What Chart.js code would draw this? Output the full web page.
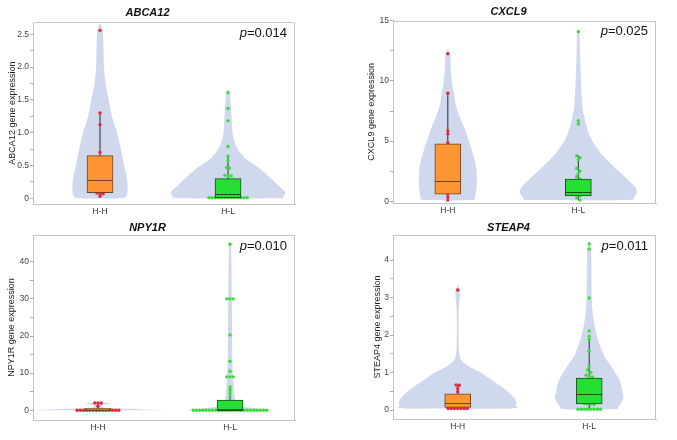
<!DOCTYPE html>
<html><head><meta charset="utf-8">
<script src="https://cdn.jsdelivr.net/npm/chart.js@4.4.1/dist/chart.umd.min.js"></script>
<style>
html,body{margin:0;padding:0;background:#fff;}
#wrap{position:relative;width:677px;height:440px;overflow:hidden;background:#fff;}
canvas{position:absolute;}
</style></head><body><div id="wrap">
<canvas id="c1" width="300" height="222" style="left:0;top:0"></canvas>
<canvas id="c2" width="300" height="222" style="left:360px;top:0"></canvas>
<canvas id="c3" width="300" height="220" style="left:0;top:220px"></canvas>
<canvas id="c4" width="300" height="220" style="left:360px;top:220px"></canvas>
</div>
<script>
// ---------- data ----------
const groups = ['H-H', 'H-L'];
const genes = ['ABCA12', 'CXCL9', 'NPY1R', 'STEAP4'];
const pValues = ['0.014', '0.025', '0.010', '0.011'];

// y tick labels
const abca12Ticks = [0, 0.5, 1.0, 1.5, 2.0, 2.5];
const abca12TickLabels = ['0', '0.5', '1.0', '1.5', '2.0', '2.5'];
const cxcl9Ticks = [0, 5, 10, 15];
const cxcl9TickLabels = ['0', '5', '10', '15'];
const npy1rTicks = [0, 10, 20, 30, 40];
const npy1rTickLabels = ['0', '10', '20', '30', '40'];
const steap4Ticks = [0, 1, 2, 3, 4];
const steap4TickLabels = ['0', '1', '2', '3', '4'];

// individual observations
const abca12HH = [2.56, 1.30, 1.12, 0.70, 0.60, 0.50, 0.38, 0.29, 0.20, 0.14, 0.08, 0.07, 0.07, 0.03];
const abca12HL = [1.61, 1.37, 1.18, 0.79, 0.64, 0.57, 0.47, 0.46, 0.35, 0.34, 0.34, 0.27, 0.20, 0.14, 0.06,
  0.01, 0.01, 0.01, 0.01, 0.01, 0.01, 0.01, 0.01, 0.01, 0.01, 0.01, 0.01, 0.01];
const cxcl9HH = [12.25, 8.97, 5.85, 5.6, 4.87, 4.3, 3.6, 2.9, 2.2, 1.72, 1.3, 0.9, 0.6, 0.35, 0.1];
const cxcl9HL = [14.09, 6.69, 6.42, 3.79, 3.62, 3.45, 2.75, 2.52, 2.3, 2.04, 1.85, 1.5, 1.2, 0.9, 0.8, 0.6, 0.45, 0.3, 0.1];
const npy1rHH = [1.95, 1.95, 1.95, 1.1, 0, 0, 0, 0, 0, 0, 0, 0, 0, 0, 0, 0, 0, 0];
const npy1rHL = [44.7, 30, 30, 30, 20.3, 13.2, 10.5, 9, 9, 9, 6.3, 5.4, 4.5, 3.6, 2.0, 1.0,
  0, 0, 0, 0, 0, 0, 0, 0, 0, 0, 0, 0, 0, 0, 0, 0, 0, 0, 0, 0, 0, 0, 0, 0];
const steap4HH = [3.2, 0.67, 0.66, 0.57, 0.49, 0.35, 0.25, 0.18, 0.12, 0.04, 0.04, 0.04, 0.04, 0.04, 0.04, 0.04];
const steap4HL = [4.43, 4.29, 2.99, 2.11, 1.97, 1.88, 1.57, 1.15, 1.07, 1.0, 0.93, 0.9, 0.88, 0.7, 0.6, 0.5, 0.44,
  0.35, 0.25, 0.17, 0.16, 0.16, 0.15, 0.02, 0.02, 0.02, 0.02, 0.02, 0.02, 0.02, 0.02];

// box statistics: [lower whisker, Q1, median, Q3, upper whisker]
const abca12HHBox = [0.03, 0.085, 0.28, 0.65, 1.30];
const abca12HLBox = [0.01, 0.01, 0.065, 0.30, 0.64];
const cxcl9HHBox = [0.1, 0.6, 1.72, 4.77, 8.97];
const cxcl9HLBox = [0.1, 0.45, 0.8, 1.85, 3.79];
const npy1rHHBox = [0, 0, 0.1, 0.53, 1.95];
const npy1rHLBox = [0, 0, 0, 2.77, 6.3];
const steap4HHBox = [0.04, 0.07, 0.18, 0.43, 0.67];
const steap4HLBox = [0.02, 0.16, 0.44, 0.85, 1.87];

// violin outlines: y levels and relative density (half width)
const abca12HHViolinY = [0, 0.03, 0.1, 0.3, 0.5, 0.75, 1.0, 1.25, 1.5, 1.75, 2.0, 2.25, 2.5, 2.6, 2.66];
const abca12HHViolinD = [20, 26, 27.5, 27, 24, 21, 17, 12, 8.7, 5.5, 4, 3.5, 3, 2, 0];
const abca12HLViolinY = [0, 0.03, 0.1, 0.2, 0.3, 0.45, 0.6, 0.7, 0.8, 0.9, 1.0, 1.25, 1.5, 1.62, 1.66];
const abca12HLViolinD = [46, 55, 57, 50, 43, 32, 18, 12, 8, 6, 4.5, 3.5, 2.5, 1.5, 0];
const cxcl9HHViolinY = [0.1, 0.3, 1, 2, 3, 4, 5, 6, 7, 8, 9, 10, 11, 12, 12.5, 12.6];
const cxcl9HHViolinD = [22, 27, 28.5, 29, 28, 25, 21, 17, 12, 8, 6, 4, 3, 2.5, 1, 0];
const cxcl9HLViolinY = [0.1, 0.3, 1, 2, 3, 4, 5, 6, 7, 8, 10, 12, 14, 14.3];
const cxcl9HLViolinD = [45, 55, 58, 47, 34, 22.5, 14, 9, 6, 4, 2.7, 1.8, 1.2, 0];
const npy1rHHViolinY = [0, 0.3, 0.6, 1.0, 1.3, 1.6, 1.9, 2.05, 2.12];
const npy1rHHViolinD = [59, 40, 10, 4, 4, 9, 12, 8, 0];
const npy1rHLViolinY = [0, 0.4, 1, 2, 3, 5, 8, 12, 20, 30, 40, 44.8, 45.2];
const npy1rHLViolinD = [40, 30, 12, 6, 5, 4, 3.3, 2.5, 2, 1.8, 1.3, 1, 0];
const steap4HHViolinY = [0.04, 0.12, 0.27, 0.45, 0.62, 0.8, 1.0, 1.15, 1.3, 1.5, 2.0, 2.5, 2.8, 3.0, 3.15, 3.28, 3.32];
const steap4HHViolinD = [50, 58, 58, 52, 44, 34, 23, 12, 4.5, 1.6, 0.9, 0.9, 1.3, 2.0, 2.3, 1, 0];
const steap4HLViolinY = [0.02, 0.08, 0.3, 0.5, 0.75, 1.0, 1.2, 1.5, 2.0, 2.5, 3.0, 4.0, 4.4, 4.5];
const steap4HLViolinD = [24, 29, 34, 33, 31, 26, 21, 14, 7.5, 4, 2.5, 2.2, 1.5, 0];

// ---------- styling ----------
const FONT = "'Liberation Sans', Arial, sans-serif";
const VIOLIN = '#d0d8ed';
const BOX_FILL = ['#ff9433', '#25e034'];
const BOX_LINE = ['#6a4626', '#1d4a1d'];
const DOT = ['#e3263e', '#39dc39'];
const FRAME = '#c4c4c4';
const SWARM_GAP = 3.2, BIN_PX = 2.8;

const panels = [
  { id: 'c1', gene: 0, hh: abca12HH, hl: abca12HL, box: [abca12HHBox, abca12HLBox],
    violins: [[abca12HHViolinY, abca12HHViolinD], [abca12HLViolinY, abca12HLViolinD]],
    ticks: abca12Ticks, labels: abca12TickLabels, minor: 0.25,
    xmin: 0.4766, xmax: 2.523, ymin: -0.087, ymax: 2.684,
    yw: 33, xh: 18, padR: 5, titlePad: { top: 6, bottom: 3 }, yTitlePad: 7 },
  { id: 'c2', gene: 1, hh: cxcl9HH, hl: cxcl9HL, box: [cxcl9HHBox, cxcl9HLBox],
    violins: [[cxcl9HHViolinY, cxcl9HHViolinD], [cxcl9HLViolinY, cxcl9HLViolinD]],
    ticks: cxcl9Ticks, labels: cxcl9TickLabels, minor: 2.5,
    xmin: 0.580, xmax: 2.595, ymin: -0.141, ymax: 15,
    yw: 33, xh: 19, padR: 3, titlePad: { top: 5.5, bottom: 2 }, yTitlePad: 6.3 },
  { id: 'c3', gene: 2, hh: npy1rHH, hl: npy1rHL, box: [npy1rHHBox, npy1rHLBox],
    violins: [[npy1rHHViolinY, npy1rHHViolinD], [npy1rHLViolinY, npy1rHLViolinD]],
    ticks: npy1rTicks, labels: npy1rTickLabels, minor: 5,
    xmin: 0.508, xmax: 2.492, ymin: -2.61, ymax: 47.19,
    yw: 33, xh: 20, padR: 5, titlePad: { top: 1, bottom: 0.8 }, yTitlePad: 6.3 },
  { id: 'c4', gene: 3, hh: steap4HH, hl: steap4HL, box: [steap4HHBox, steap4HLBox],
    violins: [[steap4HHViolinY, steap4HHViolinD], [steap4HLViolinY, steap4HLViolinD]],
    ticks: steap4Ticks, labels: steap4TickLabels, minor: 0.5,
    xmin: 0.508, xmax: 2.508, ymin: -0.24, ymax: 4.667,
    yw: 33, xh: 21, padR: 3, titlePad: { top: 1, bottom: 0.8 }, yTitlePad: 12 }
];

// ---------- plugins ----------
const violinPlugin = {
  id: 'violins',
  beforeDatasetsDraw(chart, args, opts) {
    const xs = chart.scales.x, ys = chart.scales.y, ctx = chart.ctx, a = chart.chartArea;
    ctx.save();
    ctx.beginPath(); ctx.rect(a.left, a.top, a.right - a.left, a.bottom - a.top); ctx.clip();
    ctx.fillStyle = opts.color;
    (opts.items || []).forEach((v, gi) => {
      const cx = xs.getPixelForValue(gi + 1);
      const [yv, dv] = v;
      const pts = [];
      for (let i = 0; i < yv.length; i++) pts.push([cx + dv[i] * opts.scale, ys.getPixelForValue(yv[i])]);
      for (let i = yv.length - 2; i >= 0; i--) pts.push([cx - dv[i] * opts.scale, ys.getPixelForValue(yv[i])]);
      const n = pts.length;
      ctx.beginPath();
      ctx.moveTo(pts[0][0], pts[0][1]);
      for (let i = 0; i < n; i++) {
        const p0 = pts[(i - 1 + n) % n], p1 = pts[i], p2 = pts[(i + 1) % n], p3 = pts[(i + 2) % n];
        const c1x = p1[0] + (p2[0] - p0[0]) / 6, c1y = p1[1] + (p2[1] - p0[1]) / 6;
        const c2x = p2[0] - (p3[0] - p1[0]) / 6, c2y = p2[1] - (p3[1] - p1[1]) / 6;
        ctx.bezierCurveTo(c1x, c1y, c2x, c2y, p2[0], p2[1]);
      }
      ctx.closePath();
      ctx.fill();
    });
    ctx.restore();
  }
};

const medianPlugin = {
  id: 'boxMedian',
  afterDatasetDraw(chart, args, opts) {
    const meta = args.meta;
    if (meta.type !== 'bar') return;
    const ys = chart.scales.y, ctx = chart.ctx;
    meta.data.forEach((bar, i) => {
      const y = Math.round(ys.getPixelForValue(opts.medians[i])) + 0.5;
      ctx.save();
      ctx.strokeStyle = opts.colors[i];
      ctx.lineWidth = 1;
      ctx.beginPath();
      ctx.moveTo(bar.x - bar.width / 2, y);
      ctx.lineTo(bar.x + bar.width / 2, y);
      ctx.stroke();
      ctx.restore();
    });
  }
};

const framePlugin = {
  id: 'frame',
  afterDraw(chart, args, opts) {
    const a = chart.chartArea, ctx = chart.ctx;
    ctx.save();
    ctx.strokeStyle = opts.color; ctx.lineWidth = 1;
    ctx.strokeRect(Math.round(a.left) + 0.5, Math.round(a.top) + 0.5,
      Math.round(a.right - a.left) - 1, Math.round(a.bottom - a.top));
    // p-value
    ctx.fillStyle = '#111';
    ctx.textBaseline = 'middle';
    const italic = 'italic 13px ' + FONT, normal = '13px ' + FONT;
    ctx.font = normal; const w2 = ctx.measureText('=' + opts.p).width;
    ctx.font = italic; const w1 = ctx.measureText('p').width;
    const xr = a.right - 8, yc = a.top + 11;
    ctx.textAlign = 'left';
    ctx.fillText('p', xr - w1 - w2, yc);
    ctx.font = normal;
    ctx.fillText('=' + opts.p, xr - w2, yc);
    ctx.restore();
  }
};

function swarm(values, center, ys, ppu) {
  const sorted = values.slice().sort((a, b) => b - a);
  const out = []; let bin = [];
  const flush = () => {
    const n = bin.length;
    bin.forEach((v, i) => out.push({ x: center + (i - (n - 1) / 2) * SWARM_GAP / ppu, y: v }));
    bin = [];
  };
  sorted.forEach(v => {
    if (bin.length && Math.abs(ys.getPixelForValue(v) - ys.getPixelForValue(bin[0])) > BIN_PX) flush();
    bin.push(v);
  });
  flush();
  return out;
}

function makePanel(p) {
  const allTicks = [];
  for (let v = 0; v <= p.ticks[p.ticks.length - 1] + 1e-9; v += p.minor) allTicks.push(+v.toFixed(4));
  const chart = new Chart(document.getElementById(p.id), {
    type: 'scatter',
    data: {
      datasets: [
        { type: 'bar', data: [{ x: 1, y: [p.box[0][1], p.box[0][3]] }, { x: 2, y: [p.box[1][1], p.box[1][3]] }],
          backgroundColor: BOX_FILL, borderColor: BOX_LINE, borderWidth: 1, borderSkipped: false,
          barThickness: 26, order: 1 },
        { type: 'scatter', data: p.hh.map(v => ({ x: 1, y: v })), pointRadius: 1.7, borderWidth: 0,
          backgroundColor: DOT[0], order: 2 },
        { type: 'scatter', data: p.hl.map(v => ({ x: 2, y: v })), pointRadius: 1.7, borderWidth: 0,
          backgroundColor: DOT[1], order: 2 },
        { type: 'line', data: [{ x: 1, y: p.box[0][0] }, { x: 1, y: p.box[0][4] }], borderColor: '#2b2b2b',
          borderWidth: 1, pointRadius: 0, fill: false, order: 3 },
        { type: 'line', data: [{ x: 2, y: p.box[1][0] }, { x: 2, y: p.box[1][4] }], borderColor: '#2b2b2b',
          borderWidth: 1, pointRadius: 0, fill: false, order: 3 }
      ]
    },
    options: {
      responsive: false, animation: false, events: [],
      layout: { padding: { left: 0, right: p.padR, top: 0, bottom: 0 } },
      plugins: {
        legend: { display: false }, tooltip: { enabled: false },
        title: { display: true, text: genes[p.gene], color: '#111', padding: p.titlePad,
          font: { family: FONT, size: 11, weight: 'bold', style: 'italic' } },
        violins: { items: p.violins, color: VIOLIN, scale: 1 },
        boxMedian: { medians: [p.box[0][2], p.box[1][2]], colors: BOX_LINE },
        frame: { color: FRAME, p: pValues[p.gene] }
      },
      scales: {
        x: {
          type: 'linear', min: p.xmin, max: p.xmax, offset: false,
          afterBuildTicks: s => { s.ticks = [{ value: 1 }, { value: 2 }]; },
          afterFit: s => { s.height = p.xh; },
          ticks: { callback: v => groups[Math.round(v) - 1], color: '#333', padding: 3, autoSkip: false,
            maxRotation: 0, font: { family: FONT, size: 8.5 } },
          grid: { display: false, drawTicks: false, offset: false },
          border: { display: true, color: FRAME }
        },
        y: {
          type: 'linear', min: p.ymin, max: p.ymax,
          afterBuildTicks: s => { s.ticks = allTicks.map(v => ({ value: v })); },
          afterFit: s => { s.width = p.yw; },
          ticks: { callback: v => { const i = p.ticks.findIndex(t => Math.abs(t - v) < 1e-6); return i >= 0 ? p.labels[i] : ''; },
            color: '#444', padding: 1, autoSkip: false, maxRotation: 0, font: { family: FONT, size: 8.5 } },
          grid: { drawOnChartArea: false, drawTicks: true, tickLength: 3, color: '#aaa' },
          border: { display: true, color: FRAME },
          title: { display: true, text: genes[p.gene] + ' gene expression', color: '#222',
            padding: { top: p.yTitlePad, bottom: 0 }, font: { family: FONT, size: 9 } }
        }
      }
    },
    plugins: [violinPlugin, medianPlugin, framePlugin]
  });
  // spread tied observations side by side (dot-plot layout) using the chart's scales
  const xs = chart.scales.x, ys = chart.scales.y;
  const ppu = xs.getPixelForValue(2) - xs.getPixelForValue(1);
  chart.data.datasets[1].data = swarm(p.hh, 1, ys, ppu);
  chart.data.datasets[2].data = swarm(p.hl, 2, ys, ppu);
  chart.update('none');
}
panels.forEach(makePanel);
</script>
</body></html>
